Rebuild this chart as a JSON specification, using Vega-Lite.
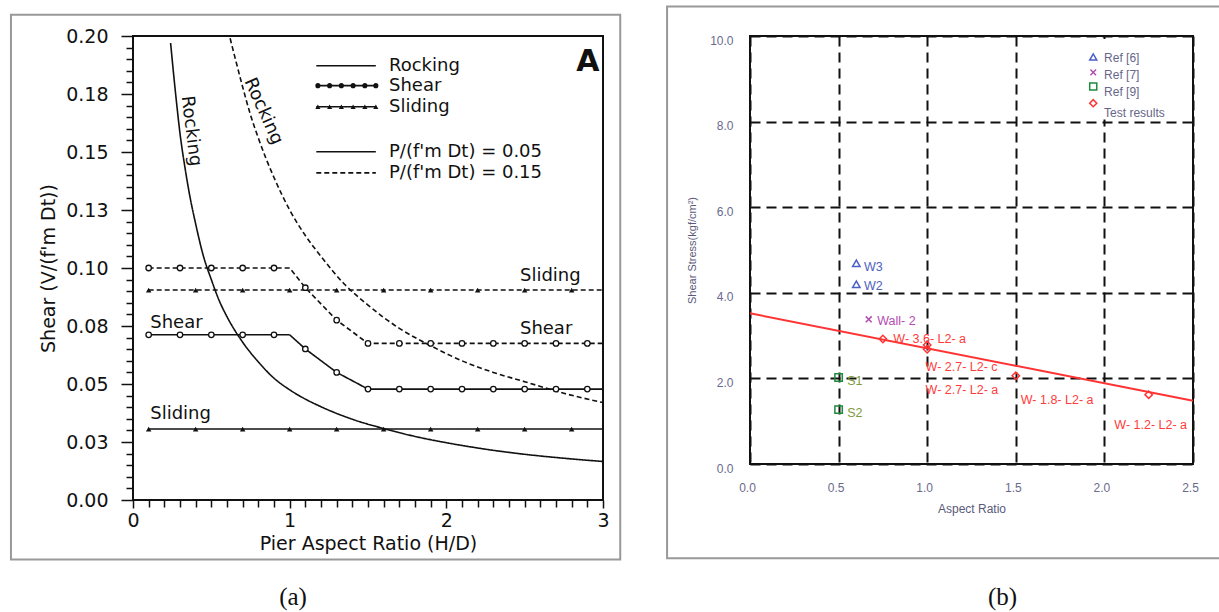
{
  "$schema": "https://vega.github.io/schema/vega-lite/v6.json",
  "background": "white",
  "padding": {"left": 8, "top": 4, "right": 0, "bottom": 0},
  "bounds": "flush",
  "spacing": 147,
  "resolve": {"scale": {"color": "independent", "shape": "independent", "strokeDash": "independent", "fill": "independent"}},
  "config": {
    "view": {"stroke": "#111", "strokeWidth": 2},
    "axis": {"labelOverlap": false, "labelBound": false, "labelFlush": false},
    "title": {"font": "Liberation Serif", "fontSize": 25, "fontWeight": "normal", "color": "#111"}
  },
  "datasets": {
    "linesA": [
      {"mode": "Rocking", "P": "0.05", "x": 0.24, "y": 0.197},
      {"mode": "Rocking", "P": "0.05", "x": 0.26, "y": 0.183},
      {"mode": "Rocking", "P": "0.05", "x": 0.28, "y": 0.170},
      {"mode": "Rocking", "P": "0.05", "x": 0.30, "y": 0.158},
      {"mode": "Rocking", "P": "0.05", "x": 0.33, "y": 0.144},
      {"mode": "Rocking", "P": "0.05", "x": 0.36, "y": 0.132},
      {"mode": "Rocking", "P": "0.05", "x": 0.40, "y": 0.119},
      {"mode": "Rocking", "P": "0.05", "x": 0.45, "y": 0.105},
      {"mode": "Rocking", "P": "0.05", "x": 0.50, "y": 0.095},
      {"mode": "Rocking", "P": "0.05", "x": 0.55, "y": 0.086},
      {"mode": "Rocking", "P": "0.05", "x": 0.60, "y": 0.079},
      {"mode": "Rocking", "P": "0.05", "x": 0.70, "y": 0.068},
      {"mode": "Rocking", "P": "0.05", "x": 0.80, "y": 0.0595},
      {"mode": "Rocking", "P": "0.05", "x": 0.90, "y": 0.0525},
      {"mode": "Rocking", "P": "0.05", "x": 1.00, "y": 0.0475},
      {"mode": "Rocking", "P": "0.05", "x": 1.10, "y": 0.0435},
      {"mode": "Rocking", "P": "0.05", "x": 1.20, "y": 0.0402},
      {"mode": "Rocking", "P": "0.05", "x": 1.40, "y": 0.0348},
      {"mode": "Rocking", "P": "0.05", "x": 1.60, "y": 0.0308},
      {"mode": "Rocking", "P": "0.05", "x": 1.80, "y": 0.0274},
      {"mode": "Rocking", "P": "0.05", "x": 2.00, "y": 0.0247},
      {"mode": "Rocking", "P": "0.05", "x": 2.25, "y": 0.0219},
      {"mode": "Rocking", "P": "0.05", "x": 2.50, "y": 0.0197},
      {"mode": "Rocking", "P": "0.05", "x": 2.75, "y": 0.018},
      {"mode": "Rocking", "P": "0.05", "x": 3.00, "y": 0.0166},
      {"mode": "Rocking", "P": "0.15", "x": 0.62, "y": 0.199},
      {"mode": "Rocking", "P": "0.15", "x": 0.65, "y": 0.191},
      {"mode": "Rocking", "P": "0.15", "x": 0.70, "y": 0.178},
      {"mode": "Rocking", "P": "0.15", "x": 0.75, "y": 0.166},
      {"mode": "Rocking", "P": "0.15", "x": 0.80, "y": 0.156},
      {"mode": "Rocking", "P": "0.15", "x": 0.85, "y": 0.147},
      {"mode": "Rocking", "P": "0.15", "x": 0.90, "y": 0.139},
      {"mode": "Rocking", "P": "0.15", "x": 1.00, "y": 0.125},
      {"mode": "Rocking", "P": "0.15", "x": 1.10, "y": 0.114},
      {"mode": "Rocking", "P": "0.15", "x": 1.20, "y": 0.105},
      {"mode": "Rocking", "P": "0.15", "x": 1.35, "y": 0.093},
      {"mode": "Rocking", "P": "0.15", "x": 1.50, "y": 0.084},
      {"mode": "Rocking", "P": "0.15", "x": 1.70, "y": 0.074},
      {"mode": "Rocking", "P": "0.15", "x": 1.90, "y": 0.0665},
      {"mode": "Rocking", "P": "0.15", "x": 2.10, "y": 0.060},
      {"mode": "Rocking", "P": "0.15", "x": 2.30, "y": 0.055},
      {"mode": "Rocking", "P": "0.15", "x": 2.50, "y": 0.051},
      {"mode": "Rocking", "P": "0.15", "x": 2.75, "y": 0.046},
      {"mode": "Rocking", "P": "0.15", "x": 3.00, "y": 0.042},
      {"mode": "Shear", "P": "0.15", "x": 0.1, "y": 0.100},
      {"mode": "Shear", "P": "0.15", "x": 0.3, "y": 0.100},
      {"mode": "Shear", "P": "0.15", "x": 0.5, "y": 0.100},
      {"mode": "Shear", "P": "0.15", "x": 0.7, "y": 0.100},
      {"mode": "Shear", "P": "0.15", "x": 0.9, "y": 0.100},
      {"mode": "Shear", "P": "0.15", "x": 1, "y": 0.100},
      {"mode": "Shear", "P": "0.15", "x": 1.1, "y": 0.0915},
      {"mode": "Shear", "P": "0.15", "x": 1.3, "y": 0.0775},
      {"mode": "Shear", "P": "0.15", "x": 1.5, "y": 0.0675},
      {"mode": "Shear", "P": "0.15", "x": 1.7, "y": 0.0675},
      {"mode": "Shear", "P": "0.15", "x": 1.9, "y": 0.0675},
      {"mode": "Shear", "P": "0.15", "x": 2.1, "y": 0.0675},
      {"mode": "Shear", "P": "0.15", "x": 2.3, "y": 0.0675},
      {"mode": "Shear", "P": "0.15", "x": 2.5, "y": 0.0675},
      {"mode": "Shear", "P": "0.15", "x": 2.7, "y": 0.0675},
      {"mode": "Shear", "P": "0.15", "x": 2.9, "y": 0.0675},
      {"mode": "Shear", "P": "0.15", "x": 3, "y": 0.0675},
      {"mode": "Shear", "P": "0.05", "x": 0.1, "y": 0.0712},
      {"mode": "Shear", "P": "0.05", "x": 0.3, "y": 0.0712},
      {"mode": "Shear", "P": "0.05", "x": 0.5, "y": 0.0712},
      {"mode": "Shear", "P": "0.05", "x": 0.7, "y": 0.0712},
      {"mode": "Shear", "P": "0.05", "x": 0.9, "y": 0.0712},
      {"mode": "Shear", "P": "0.05", "x": 1, "y": 0.0712},
      {"mode": "Shear", "P": "0.05", "x": 1.1, "y": 0.0651},
      {"mode": "Shear", "P": "0.05", "x": 1.3, "y": 0.055},
      {"mode": "Shear", "P": "0.05", "x": 1.5, "y": 0.0478},
      {"mode": "Shear", "P": "0.05", "x": 1.7, "y": 0.0478},
      {"mode": "Shear", "P": "0.05", "x": 1.9, "y": 0.0478},
      {"mode": "Shear", "P": "0.05", "x": 2.1, "y": 0.0478},
      {"mode": "Shear", "P": "0.05", "x": 2.3, "y": 0.0478},
      {"mode": "Shear", "P": "0.05", "x": 2.5, "y": 0.0478},
      {"mode": "Shear", "P": "0.05", "x": 2.7, "y": 0.0478},
      {"mode": "Shear", "P": "0.05", "x": 2.9, "y": 0.0478},
      {"mode": "Shear", "P": "0.05", "x": 3, "y": 0.0478},
      {"mode": "Sliding", "P": "0.15", "x": 0.1, "y": 0.0905},
      {"mode": "Sliding", "P": "0.15", "x": 0.4, "y": 0.0905},
      {"mode": "Sliding", "P": "0.15", "x": 0.7, "y": 0.0905},
      {"mode": "Sliding", "P": "0.15", "x": 1.0, "y": 0.0905},
      {"mode": "Sliding", "P": "0.15", "x": 1.3, "y": 0.0905},
      {"mode": "Sliding", "P": "0.15", "x": 1.6, "y": 0.0905},
      {"mode": "Sliding", "P": "0.15", "x": 1.9, "y": 0.0905},
      {"mode": "Sliding", "P": "0.15", "x": 2.2, "y": 0.0905},
      {"mode": "Sliding", "P": "0.15", "x": 2.5, "y": 0.0905},
      {"mode": "Sliding", "P": "0.15", "x": 2.8, "y": 0.0905},
      {"mode": "Sliding", "P": "0.15", "x": 3, "y": 0.0905},
      {"mode": "Sliding", "P": "0.05", "x": 0.1, "y": 0.0306},
      {"mode": "Sliding", "P": "0.05", "x": 0.4, "y": 0.0306},
      {"mode": "Sliding", "P": "0.05", "x": 0.7, "y": 0.0306},
      {"mode": "Sliding", "P": "0.05", "x": 1.0, "y": 0.0306},
      {"mode": "Sliding", "P": "0.05", "x": 1.3, "y": 0.0306},
      {"mode": "Sliding", "P": "0.05", "x": 1.6, "y": 0.0306},
      {"mode": "Sliding", "P": "0.05", "x": 1.9, "y": 0.0306},
      {"mode": "Sliding", "P": "0.05", "x": 2.2, "y": 0.0306},
      {"mode": "Sliding", "P": "0.05", "x": 2.5, "y": 0.0306},
      {"mode": "Sliding", "P": "0.05", "x": 2.8, "y": 0.0306},
      {"mode": "Sliding", "P": "0.05", "x": 3, "y": 0.0306}
    ],
    "legLinesA": [
      {"item": "Rocking", "P": "0.05", "x": 1.17, "x2": 1.55, "y": 0.1872},
      {"item": "Shear", "P": "0.05", "x": 1.17, "x2": 1.55, "y": 0.1786},
      {"item": "Sliding", "P": "0.05", "x": 1.17, "x2": 1.55, "y": 0.1695},
      {"item": "P 0.05", "P": "0.05", "x": 1.17, "x2": 1.55, "y": 0.1501},
      {"item": "P 0.15", "P": "0.15", "x": 1.17, "x2": 1.55, "y": 0.141}
    ],
    "legMarksA": [
      {"item": "Shear", "x": 1.18, "y": 0.1786},
      {"item": "Shear", "x": 1.255, "y": 0.1786},
      {"item": "Shear", "x": 1.33, "y": 0.1786},
      {"item": "Shear", "x": 1.405, "y": 0.1786},
      {"item": "Shear", "x": 1.48, "y": 0.1786},
      {"item": "Shear", "x": 1.55, "y": 0.1786},
      {"item": "Sliding", "x": 1.18, "y": 0.1695},
      {"item": "Sliding", "x": 1.255, "y": 0.1695},
      {"item": "Sliding", "x": 1.33, "y": 0.1695},
      {"item": "Sliding", "x": 1.405, "y": 0.1695},
      {"item": "Sliding", "x": 1.48, "y": 0.1695},
      {"item": "Sliding", "x": 1.55, "y": 0.1695}
    ],
    "txtA": [
      {"t": "Sliding", "x": 2.47, "y": 0.0965},
      {"t": "Shear", "x": 2.47, "y": 0.0737},
      {"t": "Shear", "x": 0.11, "y": 0.0761},
      {"t": "Sliding", "x": 0.11, "y": 0.0371},
      {"t": "Rocking", "x": 1.634, "y": 0.1872},
      {"t": "Shear", "x": 1.634, "y": 0.1786},
      {"t": "Sliding", "x": 1.634, "y": 0.1695},
      {"t": "P/(f'm  Dt) = 0.05", "x": 1.634, "y": 0.1501},
      {"t": "P/(f'm  Dt) = 0.15", "x": 1.634, "y": 0.141}
    ],
    "ptsB": [
      {"s": "Ref [6]", "x": 0.6, "y": 4.69},
      {"s": "Ref [6]", "x": 0.6, "y": 4.2},
      {"s": "Ref [7]", "x": 0.67, "y": 3.38},
      {"s": "Ref [9]", "x": 0.5, "y": 2.02},
      {"s": "Ref [9]", "x": 0.5, "y": 1.27},
      {"s": "Test results", "x": 0.75, "y": 2.92},
      {"s": "Test results", "x": 1.0, "y": 2.78},
      {"s": "Test results", "x": 1.0, "y": 2.68},
      {"s": "Test results", "x": 1.5, "y": 2.06},
      {"s": "Test results", "x": 2.25, "y": 1.62}
    ],
    "legB": [
      {"s": "Ref [6]", "x": 1.937, "y": 9.51},
      {"s": "Ref [7]", "x": 1.937, "y": 9.15},
      {"s": "Ref [9]", "x": 1.937, "y": 8.82},
      {"s": "Test results", "x": 1.937, "y": 8.43}
    ],
    "legTxtB": [
      {"t": "Ref [6]", "x": 1.998, "y": 9.48},
      {"t": "Ref [7]", "x": 1.998, "y": 9.10},
      {"t": "Ref [9]", "x": 1.998, "y": 8.70},
      {"t": "Test results", "x": 1.998, "y": 8.19}
    ],
    "labB": [
      {"s": "Ref [6]", "t": "W3", "x": 0.643, "y": 4.61},
      {"s": "Ref [6]", "t": "W2", "x": 0.643, "y": 4.15},
      {"s": "Ref [7]", "t": "Wall- 2", "x": 0.718, "y": 3.33},
      {"s": "Ref [9]", "t": "S1", "x": 0.549, "y": 1.93},
      {"s": "Ref [9]", "t": "S2", "x": 0.549, "y": 1.19},
      {"s": "Test results", "t": "W- 3.6- L2- a", "x": 0.809, "y": 2.92},
      {"s": "Test results", "t": "W- 2.7- L2- c", "x": 0.991, "y": 2.26},
      {"s": "Test results", "t": "W- 2.7- L2- a", "x": 0.991, "y": 1.74},
      {"s": "Test results", "t": "W- 1.8- L2- a", "x": 1.528, "y": 1.5},
      {"s": "Test results", "t": "W- 1.2- L2- a", "x": 2.056, "y": 0.92}
    ],
    "fitB": [
      {"x": 0, "y": 3.52},
      {"x": 2.5, "y": 1.48}
    ]
  },
  "hconcat": [
    {
      "width": 470,
      "height": 464,
      "title": {"text": "(a)", "orient": "bottom", "anchor": "middle", "frame": "group", "dx": -75, "offset": 24},
      "resolve": {"axis": {"x": "independent", "y": "independent"}},
      "layer": [
        {
          "data": {"name": "linesA"},
          "transform": [{"filter": "datum.mode == 'Rocking'"}],
          "mark": {"type": "line", "color": "#111", "strokeWidth": 1.6, "interpolate": "monotone"},
          "encoding": {
            "x": {
              "field": "x", "type": "quantitative",
              "scale": {"domain": [0, 3], "nice": false, "zero": false},
              "axis": {
                "orient": "bottom",
                "title": "Pier Aspect Ratio (H/D)",
                "values": [0, 1, 2, 3],
                "format": "d",
                "domain": false, "grid": false,
                "tickSize": 8, "tickWidth": 1.5, "tickColor": "#111",
                "labelFont": "DejaVu Sans", "labelFontSize": 19, "labelColor": "#111", "labelPadding": 3,
                "titleFont": "DejaVu Sans", "titleFontSize": 19, "titleFontWeight": "normal", "titleColor": "#111", "titlePadding": 4
              }
            },
            "y": {
              "field": "y", "type": "quantitative",
              "scale": {"domain": [0, 0.2], "nice": false, "zero": false},
              "axis": {
                "orient": "left",
                "title": "Shear (V/(f'm Dt))",
                "values": [0, 0.025, 0.05, 0.075, 0.1, 0.125, 0.15, 0.175, 0.2],
                "labelExpr": "format(datum.value + 0.0001, '.2f')",
                "tickSize": 12,
                "domain": false, "grid": false,
                "tickWidth": 1.5, "tickColor": "#111",
                "labelFont": "DejaVu Sans", "labelFontSize": 19, "labelColor": "#111", "labelPadding": 13,
                "titleFont": "DejaVu Sans", "titleFontSize": 19, "titleFontWeight": "normal", "titleColor": "#111", "titlePadding": 7
              }
            },
            "detail": {"field": "mode"},
            "strokeDash": {"field": "P", "type": "nominal", "scale": {"domain": ["0.05", "0.15"], "range": [[1, 0], [5, 3]]}, "legend": null}
          }
        },
        {
          "data": {"name": "linesA"},
          "transform": [{"filter": "datum.mode != 'Rocking'"}],
          "mark": {"type": "line", "color": "#111", "strokeWidth": 1.6},
          "encoding": {
            "x": {
              "field": "x", "type": "quantitative",
              "axis": {
                "orient": "bottom", "title": null, "labels": false, "domain": false, "grid": false,
                "values": [0.1, 0.2, 0.3, 0.4, 0.5, 0.6, 0.7, 0.8, 0.9, 1.1, 1.2, 1.3, 1.4, 1.5, 1.6, 1.7, 1.8, 1.9, 2.1, 2.2, 2.3, 2.4, 2.5, 2.6, 2.7, 2.8, 2.9],
                "tickSize": 7, "tickWidth": 1.5, "tickColor": "#111"
              }
            },
            "y": {
              "field": "y", "type": "quantitative",
              "axis": {
                "orient": "left", "title": null, "labels": false, "domain": false, "grid": false,
                "values": [0.005, 0.01, 0.015, 0.02, 0.03, 0.035, 0.04, 0.045, 0.055, 0.06, 0.065, 0.07, 0.08, 0.085, 0.09, 0.095, 0.105, 0.11, 0.115, 0.12, 0.13, 0.135, 0.14, 0.145, 0.155, 0.16, 0.165, 0.17, 0.18, 0.185, 0.19, 0.195],
                "tickSize": 7, "tickWidth": 1.5, "tickColor": "#111"
              }
            },
            "detail": {"field": "mode"},
            "strokeDash": {"field": "P", "type": "nominal", "legend": null}
          }
        },
        {
          "data": {"name": "linesA"},
          "transform": [{"filter": "datum.mode == 'Shear' && datum.x != 1 && datum.x != 3"}],
          "mark": {"type": "point", "shape": "circle", "filled": true, "fill": "white", "stroke": "#111", "strokeWidth": 1.3, "size": 30, "opacity": 1},
          "encoding": {
            "x": {"field": "x", "type": "quantitative", "axis": null},
            "y": {"field": "y", "type": "quantitative", "axis": null}
          }
        },
        {
          "data": {"name": "linesA"},
          "transform": [{"filter": "datum.mode == 'Sliding' && datum.x != 3"}],
          "mark": {"type": "point", "shape": "triangle-up", "filled": true, "color": "#111", "size": 30, "opacity": 1},
          "encoding": {
            "x": {"field": "x", "type": "quantitative", "axis": null},
            "y": {"field": "y", "type": "quantitative", "axis": null}
          }
        },
        {
          "data": {"name": "legLinesA"},
          "mark": {"type": "rule", "color": "#111", "strokeWidth": 1.6},
          "encoding": {
            "x": {"field": "x", "type": "quantitative", "axis": null},
            "x2": {"field": "x2"},
            "y": {"field": "y", "type": "quantitative", "axis": null},
            "strokeDash": {"field": "P", "type": "nominal", "legend": null}
          }
        },
        {
          "data": {"name": "legMarksA"},
          "transform": [{"filter": "datum.item == 'Shear'"}],
          "mark": {"type": "point", "shape": "circle", "filled": true, "color": "#111", "size": 26, "opacity": 1},
          "encoding": {
            "x": {"field": "x", "type": "quantitative", "axis": null},
            "y": {"field": "y", "type": "quantitative", "axis": null}
          }
        },
        {
          "data": {"name": "legMarksA"},
          "transform": [{"filter": "datum.item == 'Sliding'"}],
          "mark": {"type": "point", "shape": "triangle-up", "filled": true, "color": "#111", "size": 26, "opacity": 1},
          "encoding": {
            "x": {"field": "x", "type": "quantitative", "axis": null},
            "y": {"field": "y", "type": "quantitative", "axis": null}
          }
        },
        {
          "data": {"name": "txtA"},
          "mark": {"type": "text", "font": "DejaVu Sans", "fontSize": 18, "color": "#111", "align": "left", "baseline": "middle"},
          "encoding": {
            "x": {"field": "x", "type": "quantitative", "axis": null},
            "y": {"field": "y", "type": "quantitative", "axis": null},
            "text": {"field": "t"}
          }
        },
        {
          "data": {"values": [{"t": "A"}]},
          "mark": {"type": "text", "font": "DejaVu Sans", "fontSize": 30, "fontWeight": "bold", "color": "#111", "align": "left", "baseline": "middle"},
          "encoding": {
            "x": {"datum": 2.83, "type": "quantitative", "axis": null},
            "y": {"datum": 0.189, "type": "quantitative", "axis": null},
            "text": {"field": "t"}
          }
        },
        {
          "data": {"values": [{"t": "Rocking"}]},
          "mark": {"type": "text", "font": "DejaVu Sans", "fontSize": 18, "color": "#111", "align": "center", "baseline": "middle", "angle": 83},
          "encoding": {
            "x": {"datum": 0.37, "type": "quantitative", "axis": null},
            "y": {"datum": 0.159, "type": "quantitative", "axis": null},
            "text": {"field": "t"}
          }
        },
        {
          "data": {"values": [{"t": "Rocking"}]},
          "mark": {"type": "text", "font": "DejaVu Sans", "fontSize": 18, "color": "#111", "align": "center", "baseline": "middle", "angle": 66},
          "encoding": {
            "x": {"datum": 0.832, "type": "quantitative", "axis": null},
            "y": {"datum": 0.1675, "type": "quantitative", "axis": null},
            "text": {"field": "t"}
          }
        },
        {
          "data": {"values": [{}]},
          "mark": {"type": "rect", "filled": false, "stroke": "#999", "strokeWidth": 2},
          "encoding": {
            "x": {"datum": -0.779, "type": "quantitative", "axis": null},
            "x2": {"datum": 3.11},
            "y": {"datum": 0.20914, "type": "quantitative", "axis": null},
            "y2": {"datum": -0.02565}
          }
        }
      ]
    },
    {
      "width": 443,
      "height": 428,
      "title": {"text": "(b)", "orient": "bottom", "anchor": "middle", "frame": "group", "dx": 31, "offset": 26},
      "layer": [
        {
          "data": {"name": "fitB"},
          "mark": {"type": "line", "color": "#ff3333", "strokeWidth": 2},
          "encoding": {
            "x": {
              "field": "x", "type": "quantitative",
              "scale": {"domain": [0, 2.5], "nice": false, "zero": false},
              "axis": {
                "title": "Aspect Ratio",
                "values": [0, 0.5, 1, 1.5, 2, 2.5],
                "format": ".1f",
                "domain": false, "ticks": false, "tickSize": 0,
                "grid": true, "gridColor": "#111", "gridDash": [10, 6], "gridWidth": 2, "gridOpacity": 1,
                "labelFont": "Liberation Sans", "labelFontSize": 12, "labelColor": "#6a6a8c", "labelPadding": 18, "labelOffset": -3,
                "titleFont": "Liberation Sans", "titleFontSize": 12, "titleFontWeight": "normal", "titleColor": "#5a5a7a", "titlePadding": 10
              }
            },
            "y": {
              "field": "y", "type": "quantitative",
              "scale": {"domain": [0, 10], "nice": false, "zero": false},
              "axis": {
                "title": "Shear Stress(kgf/cm²)",
                "values": [0, 2, 4, 6, 8, 10],
                "format": ".1f",
                "domain": false, "ticks": false, "tickSize": 0,
                "grid": true, "gridColor": "#111", "gridDash": [10, 6], "gridWidth": 2, "gridOpacity": 1,
                "labelFont": "Liberation Sans", "labelFontSize": 12, "labelColor": "#6a6a8c", "labelPadding": 17, "labelOffset": 4,
                "titleFont": "Liberation Sans", "titleFontSize": 11, "titleFontWeight": "normal", "titleColor": "#5a5a7a", "titlePadding": 12
              }
            }
          }
        },
        {
          "data": {"values": [{}]},
          "mark": {"type": "rect", "color": "white", "opacity": 1},
          "encoding": {
            "x": {"datum": 1.9, "type": "quantitative"},
            "x2": {"datum": 2.485},
            "y": {"datum": 9.93, "type": "quantitative"},
            "y2": {"datum": 8.05}
          }
        },
        {
          "data": {"name": "ptsB"},
          "mark": {"type": "point", "filled": false, "strokeWidth": 1.5, "size": 55, "opacity": 1},
          "encoding": {
            "x": {"field": "x", "type": "quantitative"},
            "y": {"field": "y", "type": "quantitative"},
            "color": {
              "field": "s", "type": "nominal",
              "scale": {"domain": ["Ref [6]", "Ref [7]", "Ref [9]", "Test results"], "range": ["#4a5fc8", "#b44cb4", "#1e8c3c", "#ff3333"]},
              "legend": null
            },
            "shape": {
              "field": "s", "type": "nominal",
              "scale": {"domain": ["Ref [6]", "Ref [7]", "Ref [9]", "Test results"], "range": ["triangle-up", "M-0.8,-0.8L0.8,0.8M-0.8,0.8L0.8,-0.8", "square", "diamond"]},
              "legend": null
            }
          }
        },
        {
          "data": {"name": "legB"},
          "mark": {"type": "point", "filled": false, "strokeWidth": 1.5, "size": 50, "opacity": 1},
          "encoding": {
            "x": {"field": "x", "type": "quantitative"},
            "y": {"field": "y", "type": "quantitative"},
            "color": {"field": "s", "type": "nominal", "legend": null},
            "shape": {"field": "s", "type": "nominal", "legend": null}
          }
        },
        {
          "data": {"name": "legTxtB"},
          "mark": {"type": "text", "font": "Liberation Sans", "fontSize": 12, "color": "#66668a", "align": "left", "baseline": "middle"},
          "encoding": {
            "x": {"field": "x", "type": "quantitative"},
            "y": {"field": "y", "type": "quantitative"},
            "text": {"field": "t"}
          }
        },
        {
          "data": {"name": "labB"},
          "mark": {"type": "text", "font": "Liberation Sans", "fontSize": 12.5, "align": "left", "baseline": "middle"},
          "encoding": {
            "x": {"field": "x", "type": "quantitative"},
            "y": {"field": "y", "type": "quantitative"},
            "text": {"field": "t"},
            "fill": {
              "field": "s", "type": "nominal",
              "scale": {"domain": ["Ref [6]", "Ref [7]", "Ref [9]", "Test results"], "range": ["#4f62c0", "#b44cb4", "#7f9a40", "#ff3b3b"]},
              "legend": null
            }
          }
        },
        {
          "data": {"values": [{}]},
          "mark": {"type": "rect", "filled": false, "stroke": "#999", "strokeWidth": 2},
          "encoding": {
            "x": {"datum": -0.468, "type": "quantitative"},
            "x2": {"datum": 2.681},
            "y": {"datum": 10.689, "type": "quantitative"},
            "y2": {"datum": -2.2}
          }
        }
      ]
    }
  ]
}
